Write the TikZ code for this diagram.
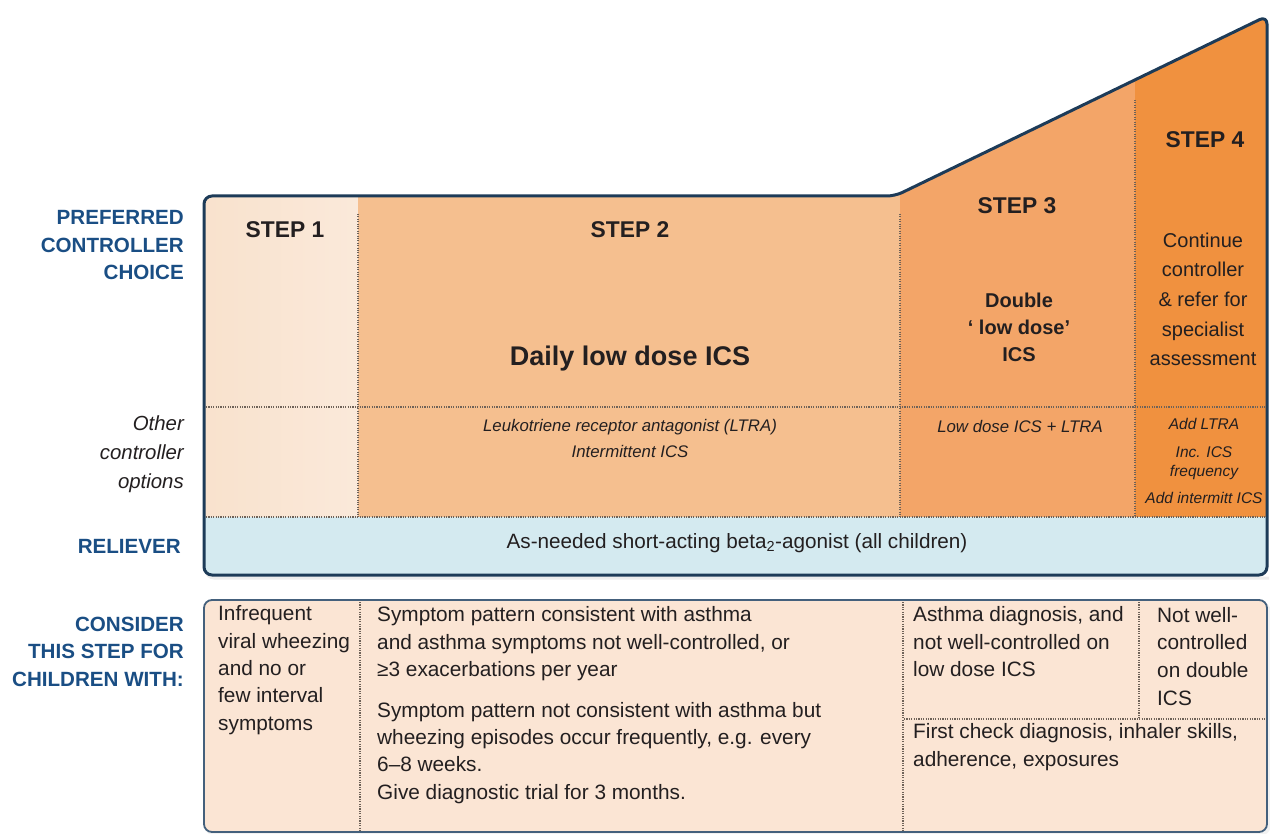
\documentclass[tikz,border=0pt]{standalone}
\usepackage{fontspec}
\setmainfont{Liberation Sans}
\definecolor{navy}{HTML}{1D3B58}
\definecolor{labblue}{HTML}{1A4E84}
\definecolor{txt}{HTML}{231F20}
\definecolor{sA}{HTML}{F9E2CD}
\definecolor{sAr}{HTML}{FAE9DA}
\definecolor{sB}{HTML}{F5BF8F}
\definecolor{sC}{HTML}{F3A568}
\definecolor{sD}{HTML}{F0913F}
\definecolor{relief}{HTML}{D4EAF0}
\definecolor{botfill}{HTML}{FBE5D4}
\definecolor{botline}{HTML}{44607C}
\definecolor{dotcol}{HTML}{6E6258}
\begin{document}
\begin{tikzpicture}[x=1pt,y=-1pt,
  every node/.style={inner sep=0pt, text=txt},
  lbl/.style={text=labblue, font=\fontsize{20.6}{27.5}\selectfont\bfseries, align=right, anchor=base east},
  lblit/.style={font=\fontsize{20.4}{29}\selectfont\itshape, align=right, anchor=base east},
  stepttl/.style={font=\fontsize{22.8}{26}\selectfont\bfseries, anchor=base},
  body/.style={font=\fontsize{20.8}{27.3}\selectfont, align=left, anchor=base west},
  bodyc/.style={font=\fontsize{20}{29.7}\selectfont, align=center, anchor=base},
  boldc/.style={font=\fontsize{20}{27}\selectfont\bfseries, align=center, anchor=base},
  small/.style={font=\fontsize{16.8}{26}\selectfont\itshape, align=center, anchor=base},
  smaller/.style={font=\fontsize{15.5}{19}\selectfont\itshape, align=center, anchor=base},
  dotline/.style={draw=dotcol, line width=1.5pt, dash pattern=on 1.1pt off 1.3pt}
]
\useasboundingbox (0,0) rectangle (1270,834);
% shadow of top frame
\draw[line width=3pt, black, opacity=0.07, rounded corners=8]
  (206,199) -- (206,578) -- (1269,578);
% fills
\begin{scope}
\clip[rounded corners=8] (204,575) -- (204,196) -- (895,196) -- (1267,16) -- (1267,575) -- cycle;
\shade[left color=sA, right color=sAr] (204,0) rectangle (358,517);
\fill[sB] (358,0) rectangle (900,517);
\fill[sC] (900,0) rectangle (1135,517);
\fill[sD] (1135,0) rectangle (1268,517);
\fill[relief] (204,517) rectangle (1268,576);
\end{scope}
% dotted separators top
\draw[dotline] (358,214) -- (358,517);
\draw[dotline] (900,214) -- (900,517);
\draw[dotline] (1135,100) -- (1135,517);
\draw[dotline] (206,407) -- (1265,407);
\draw[dotline] (206,517) -- (1265,517);
% frame
\draw[navy, line width=3pt, rounded corners=8, line join=round]
  (204,575) -- (204,196) -- (895,196) -- (1267,16) -- (1267,575) -- cycle;
% bottom panel
\draw[line width=3pt, black, opacity=0.05, rounded corners=8] (206,603) rectangle (1269,834);
\draw[rounded corners=8, fill=botfill, draw=botline, line width=1.8pt] (204,600) rectangle (1267,832);
\draw[dotline] (360,602) -- (360,831);
\draw[dotline] (903,602) -- (903,831);
\draw[dotline] (1139,602) -- (1139,719);
\draw[dotline] (904,719) -- (1266,719);
% left labels (anchor base = last line baseline)
\node[lbl] (pcc) at (184,280) {PREFERRED\\CONTROLLER\\CHOICE};
\node[lblit] (oco) at (184,488) {Other\\controller\\options};
\node[lbl] (rel) at (181,553) {RELIEVER};
\node[lbl] (cons) at (184,686) {CONSIDER\\THIS STEP FOR\\CHILDREN WITH:};
% step titles
\node[stepttl] (s1) at (285,238) {STEP 1};
\node[stepttl] (s2) at (630,238) {STEP 2};
\node[stepttl] (s3) at (1017,214) {STEP 3};
\node[stepttl] (s4) at (1205,148) {STEP 4};
% preferred
\node[font=\fontsize{27}{30}\selectfont\bfseries, anchor=base] (p2) at (630,366) {Daily low dose ICS};
\node[boldc] (p3) at (1019,362) {Double\\‘ low dose’\\ICS};
\node[bodyc] (p4) at (1203,366) {Continue\\controller\\\& refer for\\specialist\\assessment};
% other options
\node[small] (o2) at (630,457) {Leukotriene receptor antagonist (LTRA)\\Intermittent ICS};
\node[small] (o3) at (1020,432) {Low dose ICS + LTRA};
\node[smaller] (o4a) at (1204,430) {Add LTRA};
\node[smaller] (o4b) at (1204,476) {Inc. ICS\\frequency};
\node[smaller] (o4c) at (1204,503) {Add intermitt ICS};
% reliever
\node[font=\fontsize{20.7}{24}\selectfont, anchor=base] (rtxt) at (737,548) {As-needed short-acting beta\textsubscript{2}-agonist (all children)};
% consider
\node[body] (c1) at (218,730) {Infrequent\\viral wheezing\\and no or\\few interval\\symptoms};
\node[body] (c2a) at (377,676.5) {Symptom pattern consistent with asthma\\and asthma symptoms not well-controlled, or\\≥3 exacerbations per year};
\node[body] (c2b) at (377,799) {Symptom pattern not consistent with asthma but\\wheezing episodes occur frequently, e.g. every\\6–8 weeks.\\Give diagnostic trial for 3 months.};
\node[body] (c3a) at (913,676.5) {Asthma diagnosis, and\\not well-controlled on\\low dose ICS};
\node[body, font=\fontsize{20.8}{28}\selectfont] (c3b) at (913,766) {First check diagnosis, inhaler skills,\\adherence, exposures};
\node[body, font=\fontsize{20.8}{27.6}\selectfont] (c4) at (1157,705) {Not well-\\controlled\\on double\\ICS};
\end{tikzpicture}
\end{document}
